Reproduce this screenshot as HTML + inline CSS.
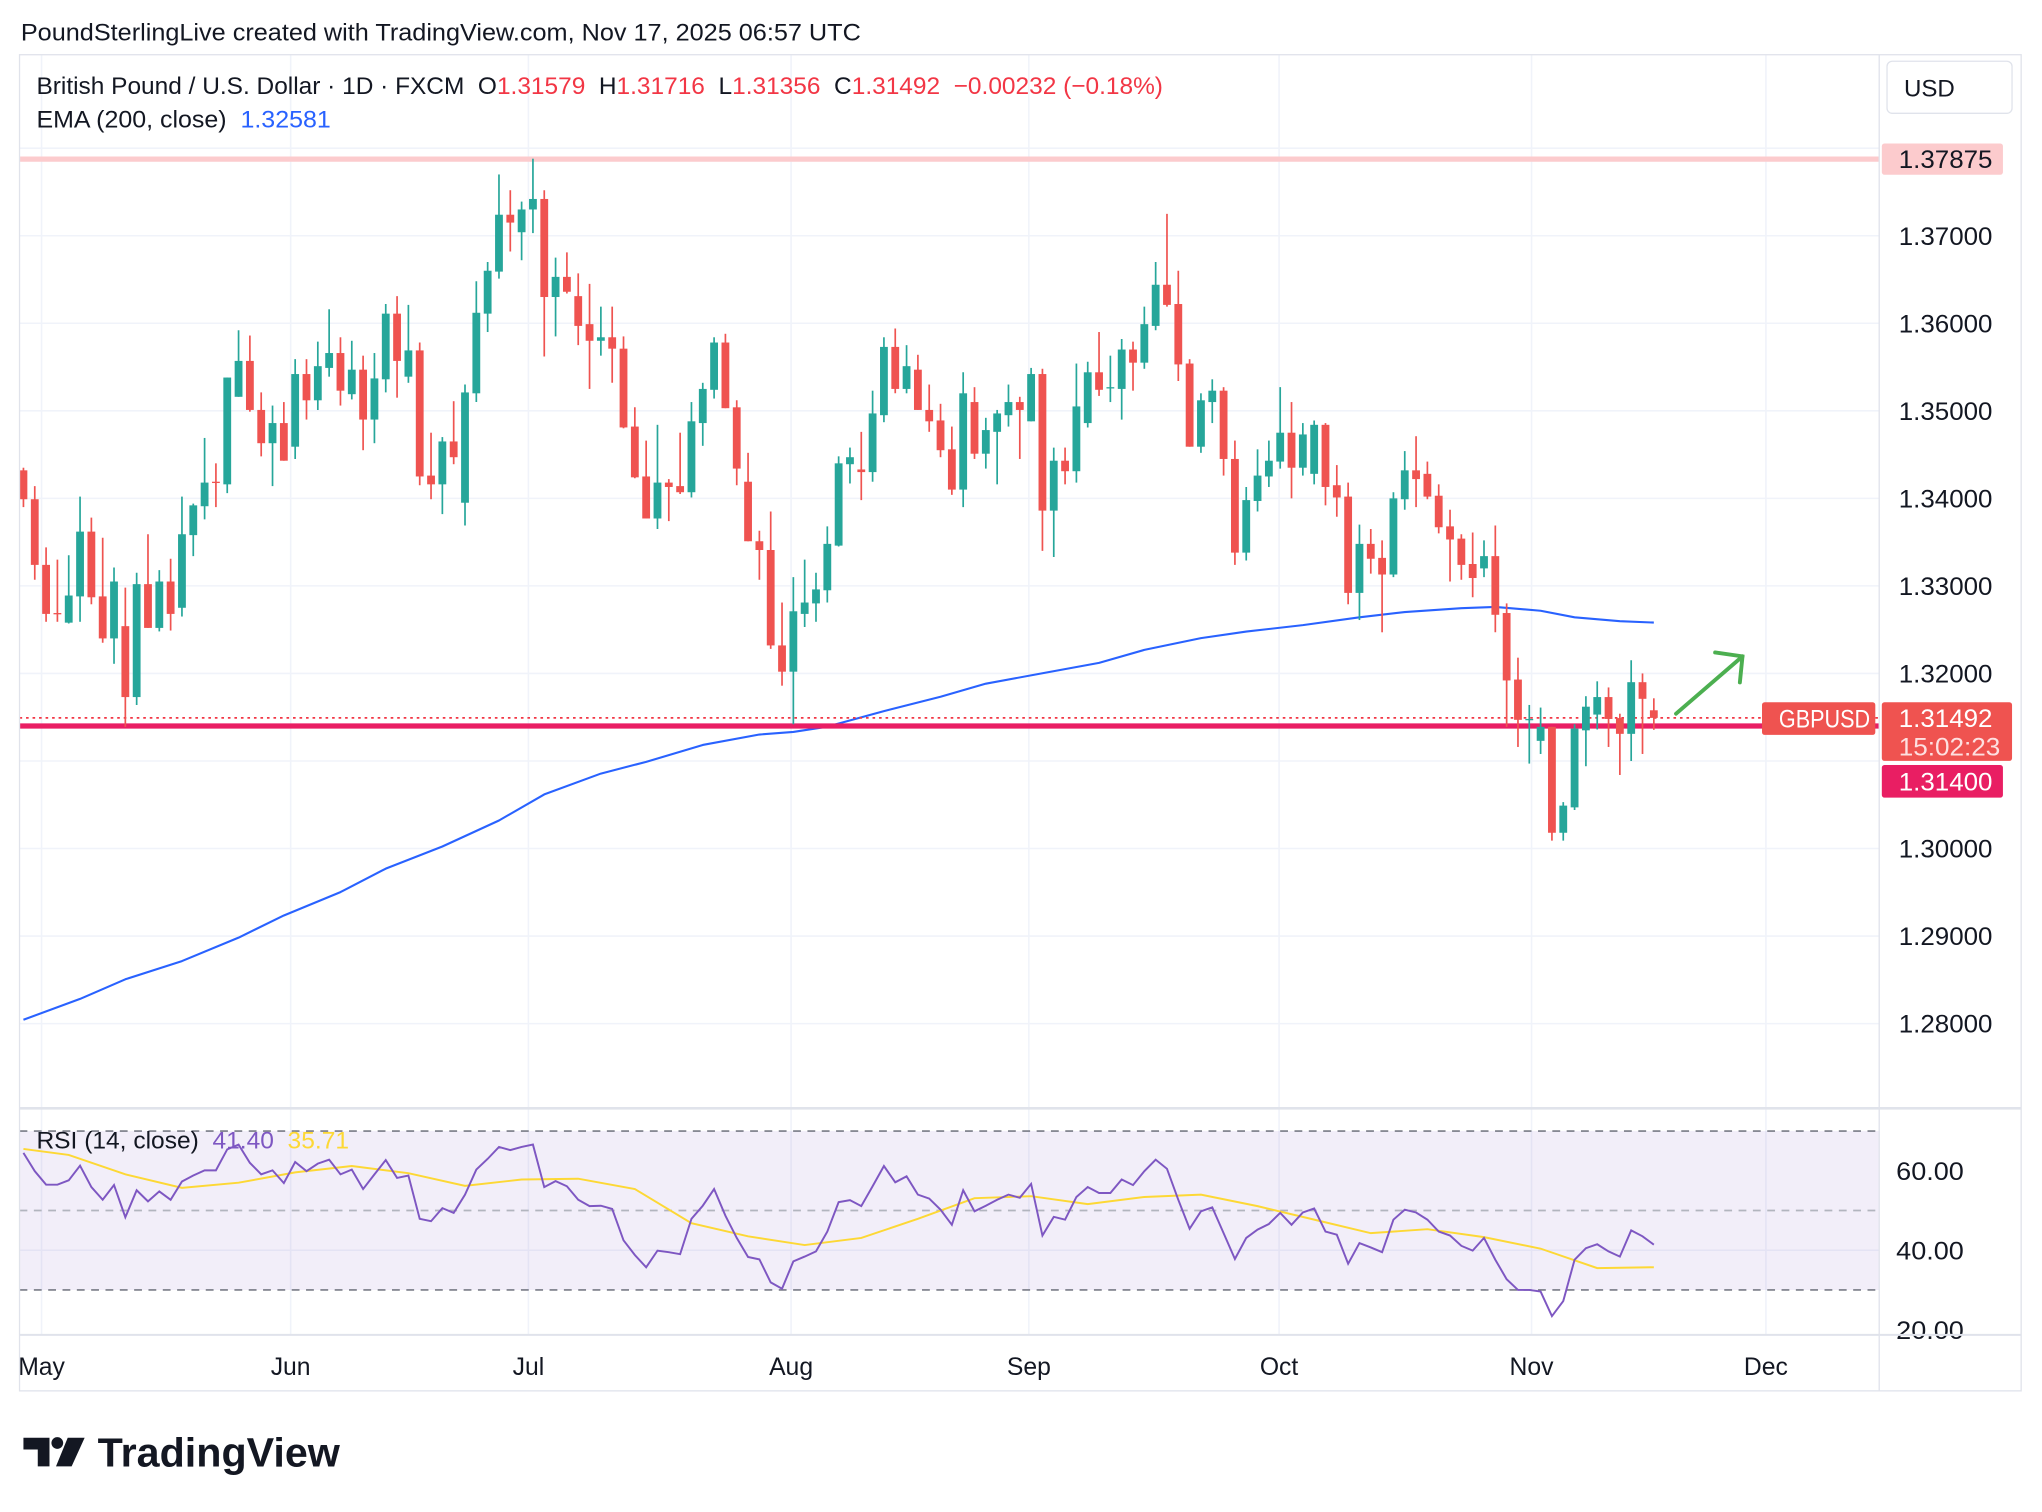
<!DOCTYPE html>
<html><head><meta charset="utf-8"><title>GBPUSD chart</title>
<style>
html,body{margin:0;padding:0;background:#fff;}
svg{display:block;font-family:"Liberation Sans",Arial,sans-serif;}
text{white-space:pre;}
</style></head>
<body>
<svg id="chart" width="2042" height="1512" viewBox="0 0 1568 1161" xmlns="http://www.w3.org/2000/svg" xml:space="preserve">
<rect x="0" y="0" width="1568" height="1161" fill="#fff"/>
<text x="16" y="31" font-size="18.5" fill="#131722" textLength="645" lengthAdjust="spacingAndGlyphs">PoundSterlingLive created with TradingView.com, Nov 17, 2025 06:57 UTC</text>
<g id="grid"></g>
<g id="rsiband"></g>
<g id="ema"></g>
<g id="levels"></g>
<g id="candles"></g>
<g id="rsi"></g>
<g id="axes"></g>
<rect x="15" y="42" width="1537" height="1026" fill="none" stroke="#e0e3eb" stroke-width="1"/>
<line x1="1443" y1="42" x2="1443" y2="1068" stroke="#e0e3eb"/>
<line x1="15" y1="851" x2="1552" y2="851" stroke="#e0e3eb" stroke-width="2"/>
<line x1="15" y1="1025" x2="1552" y2="1025" stroke="#e0e3eb" stroke-width="1.5"/>
<text x="28" y="72" font-size="18.5" fill="#131722" textLength="865" lengthAdjust="spacingAndGlyphs">British Pound / U.S. Dollar · 1D · FXCM  O<tspan fill="#f23645">1.31579</tspan>  H<tspan fill="#f23645">1.31716</tspan>  L<tspan fill="#f23645">1.31356</tspan>  C<tspan fill="#f23645">1.31492  −0.00232 (−0.18%)</tspan></text>
<text x="28" y="98" font-size="18.5" fill="#131722" textLength="226" lengthAdjust="spacingAndGlyphs">EMA (200, close)  <tspan fill="#2962ff">1.32581</tspan></text>
<rect x="1449" y="47" width="96" height="40" rx="4" fill="#fff" stroke="#e0e3eb"/>
<text x="1462" y="74" font-size="18.5" fill="#131722">USD</text>
<text x="28" y="882" font-size="18.5" fill="#131722" textLength="240" lengthAdjust="spacingAndGlyphs">RSI (14, close)  <tspan fill="#7e57c2">41.40</tspan>  <tspan fill="#fdd835">35.71</tspan></text>
<g stroke="#4caf50" stroke-width="3" fill="none" stroke-linecap="round">
<line x1="1287" y1="548" x2="1338" y2="504"/>
<polyline points="1317,501 1338,504 1336,524"/>
</g>
<g>
<path d="M18 1104 h20 v22 h-9 v-13 h-11 z" fill="#131722"/>
<circle cx="44" cy="1108" r="4.5" fill="#131722"/>
<path d="M52 1104 h13 l-10 22 h-12 z" fill="#131722"/>
<text x="75" y="1126" font-size="31" font-weight="bold" fill="#131722" textLength="186" lengthAdjust="spacingAndGlyphs">TradingView</text>
</g>
</svg>
<script>
const opens=[1.3432,1.3399,1.3324,1.3269,1.3258,1.3288,1.3362,1.3288,1.3240,1.3254,1.3173,1.3302,1.3252,1.3305,1.3275,1.3358,1.3391,1.3419,1.3416,1.3516,1.3557,1.3501,1.3463,1.3486,1.3459,1.3542,1.3512,1.3549,1.3566,1.3519,1.3547,1.3490,1.3536,1.3611,1.3539,1.3569,1.3426,1.3416,1.3465,1.3395,1.3520,1.3611,1.3659,1.3724,1.3704,1.3730,1.3742,1.3630,1.3653,1.3631,1.3599,1.3580,1.3584,1.3571,1.3482,1.3425,1.3377,1.3418,1.3414,1.3407,1.3486,1.3524,1.3578,1.3504,1.3419,1.3351,1.3341,1.3232,1.3202,1.3268,1.3280,1.3295,1.3346,1.3439,1.3433,1.3430,1.3495,1.3573,1.3525,1.3547,1.3501,1.3489,1.3456,1.3410,1.3510,1.3451,1.3476,1.3495,1.3510,1.3488,1.3542,1.3386,1.3443,1.3431,1.3486,1.3544,1.3526,1.3525,1.3570,1.3555,1.3597,1.3644,1.3622,1.3554,1.3459,1.3510,1.3523,1.3445,1.3338,1.3397,1.3425,1.3442,1.3475,1.3435,1.3428,1.3484,1.3415,1.3402,1.3292,1.3348,1.3332,1.3313,1.3399,1.3432,1.3428,1.3403,1.3368,1.3354,1.3325,1.3320,1.3334,1.3269,1.3193,1.3147,1.3123,1.3139,1.3018,1.3047,1.3135,1.3153,1.3173,1.3149,1.3131,1.3190,1.31579];
const highs=[1.3435,1.3414,1.3344,1.3330,1.3335,1.3402,1.3378,1.3355,1.3321,1.3298,1.3315,1.3359,1.3318,1.3331,1.3402,1.3394,1.3469,1.3440,1.3538,1.3592,1.3586,1.3521,1.3506,1.3510,1.3559,1.3559,1.3579,1.3616,1.3584,1.3580,1.3563,1.3566,1.3622,1.3631,1.3621,1.3578,1.3475,1.3470,1.3511,1.3530,1.3648,1.3670,1.3770,1.3752,1.3739,1.3788,1.3752,1.3675,1.3681,1.3657,1.3645,1.3619,1.3619,1.3585,1.3504,1.3466,1.3484,1.3422,1.3475,1.3510,1.3532,1.3584,1.3588,1.3512,1.3452,1.3363,1.3385,1.3281,1.3310,1.3330,1.3315,1.3368,1.3448,1.3458,1.3476,1.3523,1.3584,1.3594,1.3575,1.3564,1.3530,1.3508,1.3482,1.3544,1.3527,1.3492,1.3501,1.3530,1.3516,1.3549,1.3548,1.3458,1.3458,1.3554,1.3556,1.3590,1.3563,1.3582,1.3579,1.3619,1.3670,1.3725,1.3660,1.3559,1.3520,1.3536,1.3527,1.3466,1.3413,1.3456,1.3466,1.3527,1.3510,1.3486,1.3489,1.3486,1.3438,1.3418,1.3370,1.3365,1.3352,1.3407,1.3454,1.3471,1.3442,1.3416,1.3387,1.3359,1.3361,1.3352,1.3369,1.3280,1.3218,1.3164,1.3161,1.3139,1.3053,1.3142,1.3174,1.3191,1.3184,1.3154,1.3215,1.3200,1.31716];
const lows=[1.3390,1.3307,1.3259,1.3259,1.3257,1.3259,1.3279,1.3235,1.3211,1.3139,1.3164,1.3252,1.3248,1.3249,1.3265,1.3334,1.3376,1.3390,1.3406,1.3516,1.3499,1.3448,1.3414,1.3443,1.3445,1.3490,1.3501,1.3539,1.3506,1.3513,1.3455,1.3463,1.3521,1.3515,1.3532,1.3415,1.3399,1.3382,1.3439,1.3369,1.3510,1.3590,1.3651,1.3682,1.3672,1.3703,1.3562,1.3585,1.3634,1.3575,1.3525,1.3563,1.3532,1.3480,1.3423,1.3377,1.3365,1.3374,1.3405,1.3401,1.3460,1.3514,1.3503,1.3415,1.3351,1.3307,1.3228,1.3186,1.3142,1.3253,1.3259,1.3281,1.3345,1.3417,1.3398,1.3419,1.3487,1.3520,1.3520,1.3501,1.3476,1.3447,1.3404,1.3390,1.3445,1.3434,1.3416,1.3482,1.3445,1.3488,1.3340,1.3333,1.3416,1.3418,1.3481,1.3517,1.3510,1.3490,1.3523,1.3548,1.3592,1.3619,1.3534,1.3459,1.3452,1.3486,1.3426,1.3324,1.3329,1.3385,1.3413,1.3434,1.3400,1.3426,1.3416,1.3392,1.3379,1.3279,1.3261,1.3314,1.3247,1.3310,1.3387,1.3390,1.3399,1.3360,1.3305,1.3307,1.3287,1.3310,1.3247,1.3139,1.3116,1.3097,1.3108,1.3009,1.3009,1.3044,1.3094,1.3136,1.3116,1.3084,1.3100,1.3108,1.31356];
const closes=[1.3399,1.3324,1.3268,1.3268,1.3289,1.3362,1.3287,1.3240,1.3305,1.3173,1.3302,1.3252,1.3305,1.3268,1.3359,1.3392,1.3418,1.3418,1.3538,1.3557,1.3501,1.3463,1.3486,1.3443,1.3542,1.3512,1.3551,1.3566,1.3523,1.3547,1.3490,1.3537,1.3611,1.3557,1.3569,1.3425,1.3416,1.3465,1.3447,1.3521,1.3612,1.3660,1.3724,1.3715,1.3730,1.3742,1.3630,1.3653,1.3636,1.3597,1.3580,1.3584,1.3571,1.3481,1.3424,1.3377,1.3418,1.3413,1.3407,1.3488,1.3525,1.3578,1.3503,1.3434,1.3351,1.3341,1.3232,1.3202,1.3271,1.3281,1.3296,1.3348,1.3440,1.3447,1.3430,1.3497,1.3573,1.3525,1.3551,1.3501,1.3488,1.3455,1.3410,1.3520,1.3451,1.3478,1.3497,1.3510,1.3501,1.3542,1.3386,1.3443,1.3431,1.3505,1.3544,1.3524,1.3527,1.3570,1.3555,1.3599,1.3644,1.3621,1.3553,1.3459,1.3512,1.3523,1.3445,1.3338,1.3398,1.3426,1.3443,1.3475,1.3435,1.3473,1.3484,1.3413,1.3401,1.3292,1.3348,1.3331,1.3313,1.3400,1.3432,1.3422,1.3402,1.3367,1.3353,1.3324,1.3309,1.3334,1.3267,1.3192,1.3147,1.3148,1.3139,1.3018,1.3049,1.3137,1.3162,1.3173,1.3148,1.3131,1.3190,1.3171,1.31492];
const emaBars=[1,6,10,15,20,24,29,33,38,43,47,52,56,61,66,69,72,77,82,86,91,96,100,105,109,114,119,123,128,131,135,138,142,145];
const emaValues=[1.28044,1.28282,1.28506,1.28714,1.28982,1.29235,1.29502,1.29770,1.30023,1.30320,1.30618,1.30856,1.30990,1.31183,1.31302,1.31332,1.31392,1.31570,1.31734,1.31883,1.32002,1.32121,1.32269,1.32403,1.32478,1.32552,1.32641,1.32701,1.32745,1.32760,1.32716,1.32641,1.32597,1.32581];
const rsiValues=[64.5,59.9,56.5,56.5,57.6,61.3,55.9,52.7,56.4,48.3,55.1,52.3,54.8,52.7,57.3,58.8,60.1,60.1,65.4,66.6,62.0,59.1,60.1,56.9,62.2,59.9,61.8,62.8,59.1,60.3,55.4,59.1,62.7,58.2,58.8,47.9,47.3,50.6,49.4,54.0,60.3,63.0,66.0,65.2,66.0,66.6,55.9,57.4,56.1,52.7,51.1,51.2,50.4,42.5,38.8,35.7,39.9,39.5,39.0,47.9,51.2,55.4,48.7,43.1,38.3,37.7,31.9,30.3,37.2,38.4,39.7,44.7,52.1,
52.6,51.1,56.1,61.2,57.1,58.6,54.0,53.0,50.2,46.4,55.1,49.8,51.2,52.7,54.0,53.2,56.7,43.7,48.4,47.7,53.4,55.9,54.4,54.4,57.8,56.4,59.9,62.8,60.5,52.7,45.4,49.8,50.8,44.3,37.8,43.1,45.2,46.6,49.4,46.4,49.5,50.5,44.7,43.9,36.6,41.8,40.7,39.5,47.7,50.2,49.5,47.7,44.7,43.7,41.1,39.9,43.1,37.6,32.7,30.0,30.0,29.6,23.4,27.2,37.6,40.5,41.5,39.7,38.4,45.0,43.5,41.40];
const rsiMaBars=[1,5,10,15,20,25,30,35,40,45,50,55,60,65,70,75,80,85,90,95,100,105,110,115,120,125,130,135,140,145];
const rsiMaValues=[65.5,64.0,59.1,55.7,57.0,59.6,61.2,59.4,56.2,57.8,58.0,55.4,46.8,43.5,41.3,43.1,47.9,53.1,53.6,51.6,53.4,54.0,51.1,47.7,44.3,45.3,43.3,40.4,35.5,35.71];
const priceTicks=[1.37,1.36,1.35,1.34,1.33,1.32,1.30,1.29,1.28];
const gridPrices=[1.38,1.37,1.36,1.35,1.34,1.33,1.32,1.31,1.30,1.29,1.28];
const rsiTicks=[60,40,20];
const monthLabels=["May","Jun","Jul","Aug","Sep","Oct","Nov","Dec"];
const monthBars=[2.6,24.6,45.6,68.8,89.8,111.9,134.2,154.9];
const levelResist=1.37875, levelSupport=1.314, lastPrice=1.31492;

const NS="http://www.w3.org/2000/svg";
function mk(tag,attrs,parent){const e=document.createElementNS(NS,tag);for(const k in attrs)e.setAttribute(k,attrs[k]);parent.appendChild(e);return e;}
const xB=i=>18+(i-1)*8.694;
const yP=p=>181+(1.37-p)*6722;
const yR=v=>899+(60-v)*3.05;
const G=document.getElementById('grid'),A=document.getElementById('axes');

gridPrices.forEach(p=>{const l=mk('line',{x1:15,x2:1443,y1:yP(p),y2:yP(p),stroke:'#f0f3fa','stroke-width':1.2},G);

});
monthBars.forEach(b=>{const l=mk('line',{x1:xB(b),x2:xB(b),y1:42,y2:1025,stroke:'#f0f3fa','stroke-width':1.2},G);

});
const rl=mk('line',{x1:15,x2:1443,y1:yR(40),y2:yR(40),stroke:'#f0f3fa','stroke-width':1.2},G);



const RB=document.getElementById('rsiband');
const band=mk('rect',{x:15,y:yR(70),width:1428,height:yR(30)-yR(70),fill:'rgba(126,87,194,0.1)'},RB);


[[70,'#787b86'],[50,'#b2b5be'],[30,'#787b86']].forEach(([v,c])=>{const l=mk('line',{x1:15,x2:1443,y1:yR(v),y2:yR(v),stroke:c,'stroke-width':1.3,'stroke-dasharray':'6,5'},RB);

});

const E=document.getElementById('ema');
const emaPath=mk('polyline',{points:emaBars.map((b,i)=>xB(b)+','+yP(emaValues[i])).join(' '),fill:'none',stroke:'#2962ff','stroke-width':1.6,'stroke-linejoin':'round'},E);



const L=document.getElementById('levels');
const r1=mk('line',{x1:15,x2:1443,y1:yP(levelResist),y2:yP(levelResist),stroke:'#fccbcd','stroke-width':4},L);


const s1=mk('line',{x1:15,x2:1443,y1:yP(levelSupport),y2:yP(levelSupport),stroke:'#e91e63','stroke-width':4},L);


const d1=mk('line',{x1:15,x2:1443,y1:yP(lastPrice),y2:yP(lastPrice),stroke:'#f23645','stroke-width':1.3,'stroke-dasharray':'2,3'},L);



const C=document.getElementById('candles');
closes.forEach((c,i)=>{const o=opens[i],up=c>=o,col=up?'#26a69a':'#ef5350',x=xB(i+1);
const g=mk('g',{},C);


mk('line',{x1:x,x2:x,y1:yP(highs[i]),y2:yP(lows[i]),stroke:col,'stroke-width':1.3},g);
const t=yP(Math.max(o,c)),b=yP(Math.min(o,c));
mk('rect',{x:x-3,y:t,width:6,height:Math.max(1,b-t),fill:col},g);});

const R=document.getElementById('rsi');
const ma=mk('polyline',{points:rsiMaBars.map((b,i)=>xB(b)+','+yR(rsiMaValues[i])).join(' '),fill:'none',stroke:'#fdd835','stroke-width':1.5},R);


const rs=mk('polyline',{points:rsiValues.map((v,i)=>xB(i+1)+','+yR(v)).join(' '),fill:'none',stroke:'#7e57c2','stroke-width':1.5},R);



priceTicks.forEach(p=>{const t=mk('text',{x:1458,y:yP(p)+7,'font-size':19,fill:'#131722',textLength:72,lengthAdjust:'spacingAndGlyphs'},A);t.textContent=p.toFixed(5);

});
rsiTicks.forEach(v=>{const t=mk('text',{x:1456,y:yR(v)+7,'font-size':19,fill:'#131722',textLength:52,lengthAdjust:'spacingAndGlyphs'},A);t.textContent=v.toFixed(2);

});
monthLabels.forEach((m,i)=>{const t=mk('text',{x:xB(monthBars[i]),y:1056,'font-size':19,fill:'#131722','text-anchor':'middle'},A);t.textContent=m;

});

function tag(x,y,w,h,fill,txt,col,name,tl){const g=mk('g',{},A);


mk('rect',{x:x,y:y,width:w,height:h,rx:2,fill:fill},g);
const t=mk('text',{x:x+13,y:y+h/2+7,'font-size':19,fill:col,textLength:tl,lengthAdjust:'spacingAndGlyphs'},g);t.textContent=txt;return g;}
tag(1445,yP(levelResist)-12,93,24,'#fccbcd','1.37875','#131722','resistance-price-tag',72);
tag(1445,yP(levelSupport)+30,93,25,'#e91e63','1.31400','#fff','support-price-tag',72);
const lp=mk('g',{},A);


mk('rect',{x:1445,y:yP(lastPrice)-12,width:100,height:45,rx:2,fill:'#ef5350'},lp);
const lt1=mk('text',{x:1458,y:yP(lastPrice)+7,'font-size':19,fill:'#fff',textLength:72,lengthAdjust:'spacingAndGlyphs'},lp);lt1.textContent=lastPrice.toFixed(5);
const lt2=mk('text',{x:1458,y:yP(lastPrice)+29,'font-size':19,fill:'#fde0e0',textLength:78,lengthAdjust:'spacingAndGlyphs'},lp);lt2.textContent='15:02:23';
tag(1353,yP(lastPrice)-12,87,25,'#ef5350','GBPUSD','#fff','symbol-tag',70);
</script>
</body></html>
